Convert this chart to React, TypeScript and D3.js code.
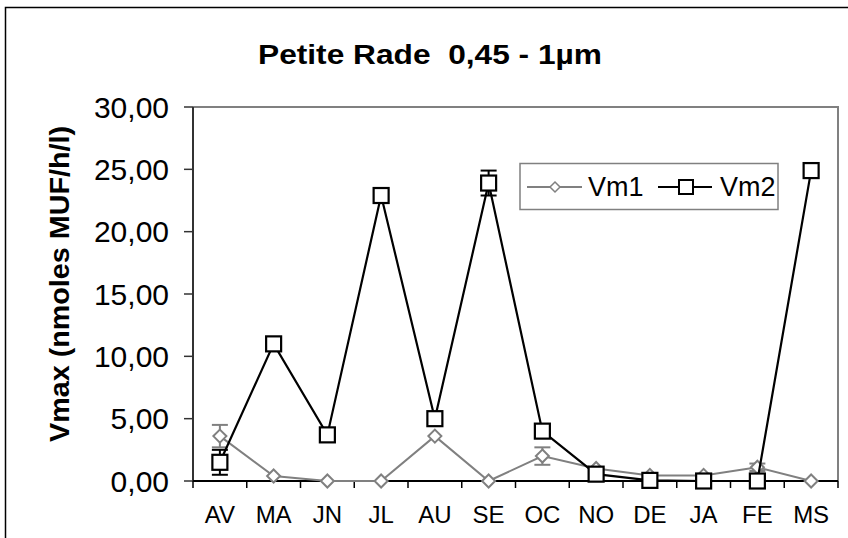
import * as d3 from 'd3';

const months = ['AV', 'MA', 'JN', 'JL', 'AU', 'SE', 'OC', 'NO', 'DE', 'JA', 'FE', 'MS'];
const vm1 = [3.6, 0.4, 0, 0, 3.6, 0, 2.0, 1.0, 0.45, 0.45, 1.1, 0];
const vm1Err = [0.9, 0, 0, 0, 0, 0, 0.7, 0, 0, 0, 0.3, 0];
const vm2 = [1.5, 11.0, 3.7, 22.9, 5.0, 23.9, 4.0, 0.55, 0.05, 0, 0, 24.9];
const vm2Err = [1.0, 0, 0, 0, 0, 1.0, 0, 0, 0, 0, 0, 0];
const yTicks = [0, 5, 10, 15, 20, 25, 30];

const W = 848;
const H = 538;
const plot = { left: 193, right: 838, top: 107, bottom: 481 };
const font = '"Liberation Sans", Arial, sans-serif';
const GREY = '#808080';

const fmt = (v: number) => v.toFixed(2).replace('.', ',');

export default function App() {
  const x = d3
    .scaleBand<string>()
    .domain(months)
    .range([plot.left, plot.right]);
  const y = d3.scaleLinear().domain([0, 30]).range([plot.bottom, plot.top]);
  const cx = (m: string) => (x(m) ?? 0) + x.bandwidth() / 2;

  const line = d3
    .line<number>()
    .x((_, i) => cx(months[i]))
    .y((d) => y(d));

  // category boundaries for x ticks
  const bounds = months.map((m) => x(m) ?? 0).concat([plot.right]);

  const diamond = (px: number, py: number, r: number) =>
    `M${px},${py - r}L${px + r},${py}L${px},${py + r}L${px - r},${py}Z`;

  const errBars = (vals: number[], errs: number[], color: string) =>
    vals.map((v, i) =>
      errs[i] > 0 ? (
        <g key={i} stroke={color} strokeWidth={2}>
          <line x1={cx(months[i])} x2={cx(months[i])} y1={y(v - errs[i])} y2={y(v + errs[i])} />
          <line x1={cx(months[i]) - 8} x2={cx(months[i]) + 8} y1={y(v + errs[i])} y2={y(v + errs[i])} />
          <line x1={cx(months[i]) - 8} x2={cx(months[i]) + 8} y1={y(v - errs[i])} y2={y(v - errs[i])} />
        </g>
      ) : null
    );

  return (
    <svg
      width={W}
      height={H}
      style={{ position: 'absolute', left: 0, top: 0, background: '#fff' }}
      fontFamily={font}
    >
      {/* outer chart frame */}
      <rect x={5.5} y={7.5} width={900} height={600} fill="#fff" stroke="#000" strokeWidth={1.5} />

      {/* title */}
      <text
        x={258}
        y={64}
        fontSize={27}
        fontWeight="bold"
        textLength={344}
        lengthAdjust="spacingAndGlyphs"
        style={{ whiteSpace: 'pre' }}
      >
        Petite Rade  0,45 - 1µm
      </text>

      {/* y axis title */}
      <text
        transform={`translate(69,${284}) rotate(-90)`}
        textAnchor="middle"
        fontSize={28}
        fontWeight="bold"
        textLength={316}
        lengthAdjust="spacingAndGlyphs"
      >
        Vmax (nmoles MUF/h/l)
      </text>

      {/* plot frame (top/right grey) */}
      <path
        d={`M${plot.left},${plot.top}H${plot.right}V${plot.bottom}`}
        fill="none"
        stroke={GREY}
        strokeWidth={2}
      />

      {/* y axis */}
      <line x1={plot.left} x2={plot.left} y1={plot.top} y2={plot.bottom} stroke="#333" strokeWidth={2} />
      {yTicks.map((t) => (
        <g key={t}>
          <line x1={184} x2={plot.left} y1={y(t)} y2={y(t)} stroke="#333" strokeWidth={1.5} />
          <text x={169} y={y(t)} dy="0.36em" textAnchor="end" fontSize={30}>
            {fmt(t)}
          </text>
        </g>
      ))}

      {/* x axis */}
      <line x1={plot.left} x2={plot.right} y1={plot.bottom} y2={plot.bottom} stroke="#000" strokeWidth={2} />
      {bounds.map((b, i) => (
        <line key={i} x1={b} x2={b} y1={plot.bottom} y2={plot.bottom + 7} stroke="#000" strokeWidth={1.5} />
      ))}
      {months.map((m) => (
        <text key={m} x={cx(m)} y={523} textAnchor="middle" fontSize={24}>
          {m}
        </text>
      ))}

      {/* Vm1 */}
      {errBars(vm1, vm1Err, GREY)}
      <path d={line(vm1) ?? ''} fill="none" stroke={GREY} strokeWidth={2} />
      {vm1.map((v, i) => (
        <path key={i} d={diamond(cx(months[i]), y(v), 6.5)} fill="#fff" stroke={GREY} strokeWidth={2} />
      ))}

      {/* Vm2 */}
      {errBars(vm2, vm2Err, '#000')}
      <path d={line(vm2) ?? ''} fill="none" stroke="#000" strokeWidth={2.2} />
      {vm2.map((v, i) => (
        <rect
          key={i}
          x={cx(months[i]) - 7.5}
          y={y(v) - 7.5}
          width={15}
          height={15}
          fill="#fff"
          stroke="#000"
          strokeWidth={2.2}
        />
      ))}

      {/* legend */}
      <rect x={520} y={163.5} width={258} height={46} fill="#fff" stroke={GREY} strokeWidth={1.5} />
      <line x1={527} x2={582} y1={187} y2={187} stroke={GREY} strokeWidth={2} />
      <path d={diamond(555, 187, 5)} fill="#fff" stroke={GREY} strokeWidth={1.5} />
      <text x={588} y={196} fontSize={27}>
        Vm1
      </text>
      <line x1={658} x2={712} y1={187} y2={187} stroke="#000" strokeWidth={2} />
      <rect x={679} y={180} width={14} height={14} fill="#fff" stroke="#000" strokeWidth={2} />
      <text x={720} y={196} fontSize={27}>
        Vm2
      </text>
    </svg>
  );
}
